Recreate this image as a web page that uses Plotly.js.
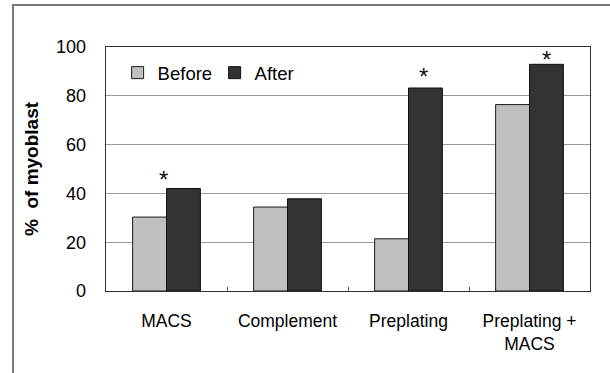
<!DOCTYPE html>
<html>
<head>
<meta charset="utf-8">
<script src="https://cdn.plot.ly/plotly-3.0.1.min.js"></script>
<style>
  html, body { margin: 0; padding: 0; background: #fff; }
  #wrap { position: relative; width: 610px; height: 373px; overflow: hidden; }
  #chart { position: absolute; left: 0; top: 0; width: 610px; height: 373px; }
  #frame { position: absolute; left: 12px; top: 4px; width: 610px; height: 380px;
           border-left: 2px solid #7a7a7a; border-top: 2px solid #7a7a7a; pointer-events: none; }
</style>
</head>
<body>
<div id="wrap">
  <div id="chart"></div>
  <div id="frame"></div>
</div>
<script>
const categories = ["MACS", "Complement", "Preplating", "Preplating +<br>MACS"];
const beforeValues = [30.3, 34.4, 21.4, 76.4];
const afterValues = [42.0, 37.8, 83.2, 92.9];
const significant = [true, false, true, true];
const yTicks = [0, 20, 40, 60, 80, 100];

const FONT = "Arial, 'Liberation Sans', sans-serif";

const traces = [
  {
    type: "bar", name: "Before", x: categories, y: beforeValues,
    marker: { color: "#c0c0c0", line: { color: "#1a1a1a", width: 1 } },
    hoverinfo: "skip"
  },
  {
    type: "bar", name: "After", x: categories, y: afterValues,
    marker: { color: "#333333", line: { color: "#111111", width: 1 } },
    hoverinfo: "skip"
  }
];

// asterisks above significant "After" bars (per-category nudges)
const starShift = [-3.5, 0, 14.5, 17];
const starLift = [-6, 0, -4, -11];
const annotations = [];
categories.forEach((c, i) => {
  if (significant[i]) {
    annotations.push({
      x: c, y: afterValues[i], xref: "x", yref: "y",
      text: "*", showarrow: false, yanchor: "bottom",
      xshift: starShift[i], yshift: starLift[i],
      font: { family: FONT, size: 24, color: "#111" }
    });
  }
});

const layout = {
  width: 610, height: 373,
  margin: { l: 106, r: 20, t: 47, b: 82, pad: 0 },
  paper_bgcolor: "#ffffff", plot_bgcolor: "#ffffff",
  barmode: "group", bargap: 0.44, bargroupgap: 0,
  font: { family: FONT, color: "#000" },
  showlegend: true,
  legend: {
    orientation: "h", x: 0.024, xanchor: "left", y: 0.893, yanchor: "middle",
    font: { family: FONT, size: 18.5, color: "#000" },
    bgcolor: "rgba(0,0,0,0)", borderwidth: 0,
    entrywidth: 52, entrywidthmode: "pixels", traceorder: "normal"
  },
  xaxis: {
    type: "category",
    showline: true, mirror: true, linecolor: "#333", linewidth: 1.3,
    showgrid: false, zeroline: false,
    tickson: "boundaries", ticks: "inside", ticklen: 4, tickcolor: "#555", tickwidth: 1,
    tickfont: { family: FONT, size: 17.5, color: "#000" },
    ticklabelstandoff: 14,
    fixedrange: true
  },
  yaxis: {
    range: [0, 100], tickvals: yTicks, ticktext: yTicks.map(String),
    showline: true, mirror: true, linecolor: "#333", linewidth: 1.3,
    showgrid: true, gridcolor: "#9a9a9a", gridwidth: 1,
    zeroline: false, ticks: "",
    tickfont: { family: FONT, size: 18, color: "#000" },
    ticklabelstandoff: 15,
    title: { text: "<b>%  of myoblast</b>", font: { family: FONT, size: 19, color: "#000" }, standoff: 12 },
    fixedrange: true
  },
  annotations: annotations
};

Plotly.newPlot("chart", traces, layout, { staticPlot: true, displayModeBar: false });
</script>
</body>
</html>
